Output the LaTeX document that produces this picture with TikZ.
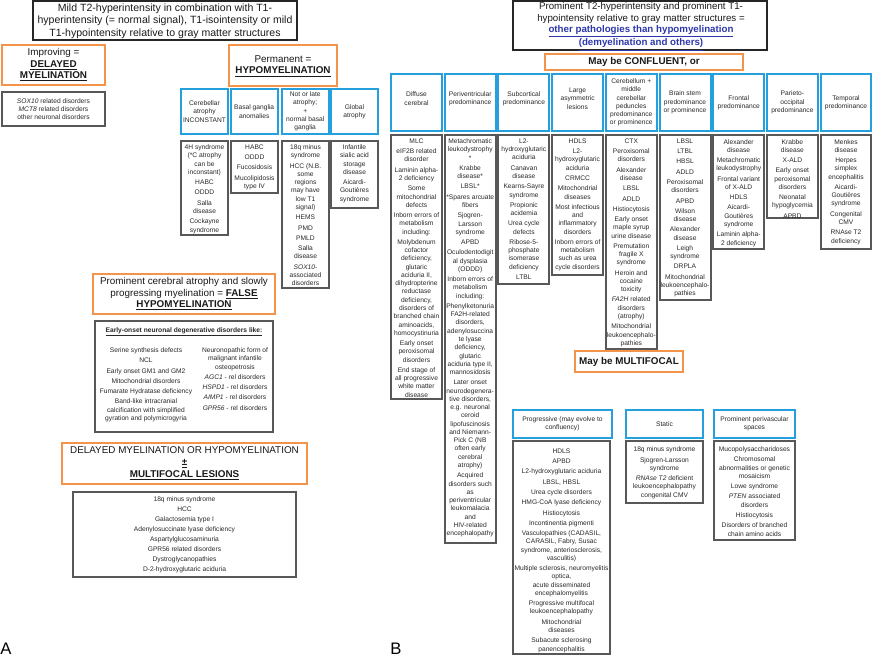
\documentclass[tikz,border=0pt]{standalone}
\usepackage{fontspec}
\setmainfont{Liberation Sans}
\definecolor{orng}{RGB}{244,148,74}
\definecolor{blu}{RGB}{38,160,220}
\definecolor{gry}{RGB}{88,88,88}
\definecolor{lnk}{RGB}{45,55,170}
\definecolor{tx}{RGB}{40,40,40}
\newcommand{\itg}{\\[1.5pt]}
\tikzset{
 obox/.style={draw=orng, line width=1.2pt},
 bbox/.style={draw=blu, line width=1.5pt},
 gbox/.style={draw=gry, line width=1.5pt},
 kbox/.style={draw=black!85, line width=1.6pt},
 txs/.style={align=center, inner sep=0pt, text=tx, font=\fontsize{5.0}{6.2}\selectfont},
 txl/.style={align=center, inner sep=0pt, text=tx, font=\fontsize{5.0}{7.5}\selectfont},
 txh/.style={align=center, inner sep=0pt, text=black!90, font=\fontsize{7.9}{9.4}\selectfont},
 txo/.style={align=center, inner sep=0pt, text=black!90, font=\fontsize{7.4}{8.7}\selectfont},
 txb/.style={align=center, inner sep=0pt, text=black!90, font=\fontsize{7.3}{8.75}\selectfont},
 lab/.style={inner sep=0pt, anchor=west, font=\fontsize{12.5}{14}\selectfont},
}
\begin{document}
\begin{tikzpicture}[x=0.75pt,y=-0.75pt]
\useasboundingbox (0,0) rectangle (872,658);

% ================= Panel A =================
\draw[kbox] (33,1) rectangle (297,40);
\node[txh] (topA) at (165,21) {Mild T2-hyperintensity in combination with T1-\\hyperintensity (= normal signal), T1-isointensity or mild\\T1-hypointensity relative to gray matter structures};

\draw[obox] (2,45) rectangle (105,85);
\node[txo] (impr) at (53.5,65) {Improving =\\\underline{\textbf{DELAYED}}\\\underline{\textbf{MYELINATION}}};
\draw[obox] (229,45) rectangle (337,86);
\node[txo] (perm) at (283,66) {Permanent =\\\underline{\textbf{HYPOMYELINATION}}};

\draw[gbox] (2,92) rectangle (105,126);
\node[txs] (soxA) at (53.5,109) {\textit{SOX10} related disorders\\\textit{MCT8} related disorders\\other neuronal disorders};

% blue headers A
\draw[bbox] (181,89) rectangle (228,134);
\draw[bbox] (230.5,89) rectangle (278,134);
\draw[bbox] (282,89) rectangle (328.5,134);
\draw[bbox] (331,89) rectangle (378,134);
\node[txs] (hA1) at (204.5,111.5) {Cerebellar\\atrophy\\INCONSTANT};
\node[txs] (hA2) at (254.2,111.5) {Basal ganglia\\anomalies};
\node[txs] (hA3) at (305.2,111.5) {Not or late\\atrophy;\\+\\normal basal\\ganglia};
\node[txs] (hA4) at (354.5,111.5) {Global\\atrophy};

% gray lists A
\draw[gbox] (181,141) rectangle (228,235);
\draw[gbox] (231,141) rectangle (278,193);
\draw[gbox] (282,141) rectangle (329,288);
\draw[gbox] (331,141) rectangle (378,208);
\node[txs,anchor=north] (lA1) at (204.5,144.5) {4H syndrome\\(*C atrophy\\can be\\inconstant)\itg HABC\itg ODDD\itg Salla\\disease\itg Cockayne\\syndrome};
\node[txs,anchor=north] (lA2) at (254.5,144.5) {HABC\itg ODDD\itg Fucosidosis\itg Mucolipidosis\\type IV};
\node[txs,anchor=north] (lA3) at (305.5,144.5) {18q minus\\syndrome\itg HCC (N.B.\\some\\regions\\may have\\low T1\\signal)\itg HEMS\itg PMD\itg PMLD\itg Salla\\disease\itg \textit{SOX10}-\\associated\\disorders};
\node[txs,anchor=north] (lA4) at (354.5,144.5) {Infantile\\sialic acid\\storage\\disease\itg Aicardi-\\Goutières\\syndrome};

% false hypomyelination
\draw[obox] (93,274) rectangle (275,314);
\node[txo] (falseH) at (184,294) {Prominent cerebral atrophy and slowly\\progressing myelination = \underline{\textbf{FALSE}}\\\underline{\textbf{HYPOMYELINATION}}};

\draw[gbox] (95,321) rectangle (273,432);
\node[txs,anchor=north] (eoT) at (184,327.3) {\underline{\textbf{Early-onset neuronal degenerative disorders like:}}};
\node[txs,anchor=north] (eoL) at (146,347.5) {Serine synthesis defects\itg NCL\itg Early onset GM1 and GM2\itg Mitochondrial disorders\itg Fumarate Hydratase deficiency\itg Band-like intracranial\\calcification with simplified\\gyration and polymicrogyria};
\node[txs,anchor=north] (eoR) at (235,347.5) {Neuronopathic form of\\malignant infantile\\osteopetrosis\itg \textit{AGC1} - rel disorders\itg \textit{HSPD1} - rel disorders\itg \textit{AIMP1} - rel disorders\itg \textit{GPR56} - rel disorders};

% delayed or hypo + multifocal
\draw[obox] (62,443) rectangle (307,484);
\node[txo] (dmh) at (184.5,463.5) {DELAYED MYELINATION OR HYPOMYELINATION\\\underline{\textbf{±}}\\\underline{\textbf{MULTIFOCAL LESIONS}}};
\draw[gbox] (73,492) rectangle (296,577);
\node[txl,anchor=north] (mlA) at (184.5,496.5) {18q minus syndrome\\HCC\\Galactosemia type I\\Adenylosuccinate lyase deficiency\\Aspartylglucosaminuria\\GPR56 related disorders\\Dystroglycanopathies\\D-2-hydroxyglutaric aciduria};

\node[lab] (labA) at (0,649) {A};

% ================= Panel B =================
\draw[kbox] (513,1) rectangle (767,50);
\node[txb] (topB) at (641,26.5) {Prominent T2-hyperintensity and prominent T1-\\hypointensity relative to gray matter structures =\\\textcolor{lnk}{\textbf{\underline{other pathologies than hypomyelination}}}\\\textcolor{lnk}{\textbf{\underline{(demyelination and others)}}}};

\draw[obox] (545,54) rectangle (743,70);
\node[txo] (confl) at (644,62) {\textbf{May be CONFLUENT, or}};

% blue headers B
\draw[bbox] (391.0,74) rectangle (442.0,131);
\draw[bbox] (444.7,74) rectangle (495.7,131);
\draw[bbox] (498.4,74) rectangle (549.4,131);
\draw[bbox] (552.1,74) rectangle (603.1,131);
\draw[bbox] (605.8,74) rectangle (656.8,131);
\draw[bbox] (659.5,74) rectangle (710.5,131);
\draw[bbox] (713.2,74) rectangle (764.2,131);
\draw[bbox] (766.9,74) rectangle (817.9,131);
\draw[bbox] (820.6,74) rectangle (871.4,131);
\node[txs] (hB1) at (416.5,98.5) {Diffuse\\cerebral};
\node[txs] (hB2) at (470.2,98.5) {Periventricular\\predominance};
\node[txs] (hB3) at (523.9,98.5) {Subcortical\\predominance};
\node[txs] (hB4) at (577.6,98.5) {Large\\asymmetric\\lesions};
\node[txs] (hB5) at (631.3,102.5) {Cerebellum +\\middle\\cerebellar\\peduncles\\predominance\\or prominence};
\node[txs] (hB6) at (685.0,102.5) {Brain stem\\predominance\\or prominence};
\node[txs] (hB7) at (738.7,103) {Frontal\\predominance};
\node[txs] (hB8) at (792.4,102.5) {Parieto-\\occipital\\predominance};
\node[txs] (hB9) at (846.0,103) {Temporal\\predominance};

% gray lists B
\draw[gbox] (391.0,134.5) rectangle (442.0,399);
\draw[gbox] (444.7,134.5) rectangle (495.7,543);
\draw[gbox] (498.4,134.5) rectangle (549.4,284);
\draw[gbox] (552.1,134.5) rectangle (603.1,275);
\draw[gbox] (605.8,134.5) rectangle (656.8,349);
\draw[gbox] (659.5,134.5) rectangle (710.5,300);
\draw[gbox] (713.2,134.5) rectangle (764.2,249);
\draw[gbox] (766.9,134.5) rectangle (817.9,218);
\draw[gbox] (820.6,134.5) rectangle (871.4,249);

\node[txs,anchor=north] (lB1) at (416.5,138.5) {MLC\itg eIF2B related\\disorder\itg Laminin alpha-\\2 deficiency\itg Some\\mitochondrial\\defects\itg Inborn errors of\\metabolism\\including:\itg Molybdenum\\cofactor\\deficiency,\\glutaric\\aciduria II,\\dihydropterine\\reductase\\deficiency,\\disorders of\\branched chain\\aminoacids,\\homocystinuria\itg Early onset\\peroxisomal\\disorders\itg End stage of\\all progressive\\white matter\\disease};
\node[txs,anchor=north] (lB2) at (470.2,138.5) {Metachromatic\\leukodystrophy\\*\itg Krabbe\\disease*\itg LBSL*\itg *Spares arcuate\\fibers\itg Sjogren-\\Larsson\\syndrome\itg APBD\itg Oculodentodigit\\al dysplasia\\(ODDD)\itg Inborn errors of\\metabolism\\including:\itg Phenylketonuria\\FA2H-related\\disorders,\\adenylosuccina\\te lyase\\deficiency,\\glutaric\\aciduria type II,\\mannosidosis\itg Later onset\\neurodegenera-\\tive disorders,\\e.g. neuronal\\ceroid\\lipofuscinosis\\and Niemann-\\Pick C (NB\\often early\\cerebral\\atrophy)\itg Acquired\\disorders such\\as\\periventricular\\leukomalacia\\and\\HIV-related\\encephalopathy};
\node[txs,anchor=north] (lB3) at (523.9,138.5) {L2-\\hydroxyglutaric\\aciduria\itg Canavan\\disease\itg Kearns-Sayre\\syndrome\itg Propionic\\acidemia\itg Urea cycle\\defects\itg Ribose-5-\\phosphate\\isomerase\\deficiency\itg LTBL};
\node[txs,anchor=north] (lB4) at (577.6,138.5) {HDLS\itg L2-\\hydroxyglutaric\\aciduria\itg CRMCC\itg Mitochondrial\\diseases\itg Most infectious\\and\\inflammatory\\disorders\itg Inborn errors of\\metabolism\\such as urea\\cycle disorders};
\node[txs,anchor=north] (lB5) at (631.3,138.5) {CTX\itg Peroxisomal\\disorders\itg Alexander\\disease\itg LBSL\itg ADLD\itg Histiocytosis\itg Early onset\\maple syrup\\urine disease\itg Premutation\\fragile X\\syndrome\itg Heroin and\\cocaine\\toxicity\itg \textit{FA2H} related\\disorders\\(atrophy)\itg Mitochondrial\\leukoencephalo-\\pathies};
\node[txs,anchor=north] (lB6) at (685.0,138.5) {LBSL\itg LTBL\itg HBSL\itg ADLD\itg Peroxisomal\\disorders\itg APBD\itg Wilson\\disease\itg Alexander\\disease\itg Leigh\\syndrome\itg DRPLA\itg Mitochondrial\\leukoencephalo-\\pathies};
\node[txs,anchor=north] (lB7) at (738.7,139) {Alexander\\disease\itg Metachromatic\\leukodystrophy\itg Frontal variant\\of X-ALD\itg HDLS\itg Aicardi-\\Goutières\\syndrome\itg Laminin alpha-\\2 deficiency};
\node[txs,anchor=north] (lB8) at (792.4,139) {Krabbe\\disease\itg X-ALD\itg Early onset\\peroxisomal\\disorders\itg Neonatal\\hypoglycemia\itg APBD};
\node[txs,anchor=north] (lB9) at (846.0,139) {Menkes\\disease\itg Herpes\\simplex\\encephalitis\itg Aicardi-\\Goutières\\syndrome\itg Congenital\\CMV\itg RNAse T2\\deficiency};

% multifocal
\draw[obox] (575,351) rectangle (683,372);
\node[txo] (multi) at (629,361.5) {\textbf{May be MULTIFOCAL}};

\draw[bbox] (513,410) rectangle (612,438);
\draw[bbox] (626,410) rectangle (703,438);
\draw[bbox] (714,410) rectangle (795,438);
\node[txs] (hP) at (562.5,424) {Progressive (may evolve to\\confluency)};
\node[txs] (hS) at (664.5,424) {Static};
\node[txs] (hV) at (754.5,424) {Prominent perivascular\\spaces};

\draw[gbox] (513,441) rectangle (610,654);
\draw[gbox] (626,441) rectangle (703,503);
\draw[gbox] (714,441) rectangle (795,540);
\node[txs,anchor=north] (lP) at (561.5,448.5) {HDLS\itg APBD\itg L2-hydroxyglutaric aciduria\itg LBSL, HBSL\itg Urea cycle disorders\itg HMG-CoA lyase deficiency\itg Histiocytosis\itg Incontinentia pigmenti\itg Vasculopathies (CADASIL,\\CARASIL, Fabry, Susac\\syndrome, anteriosclerosis,\\vasculitis)\itg Multiple sclerosis, neuromyelitis\\optica,\\acute disseminated\\encephalomyelitis\itg Progressive multifocal\\leukoencephalopathy\itg Mitochondrial\\diseases\itg Subacute sclerosing\\panencephalitis};
\node[txs,anchor=north] (lS) at (664.5,446.8) {18q minus syndrome\itg Sjogren-Larsson\\syndrome\itg \textit{RNAse T2} deficient\\leukoencephalopathy\\congenital CMV};
\node[txs,anchor=north] (lV) at (754.5,446.5) {Mucopolysaccharidoses\itg Chromosomal\\abnormalities or genetic\\mosaicism\itg Lowe syndrome\itg \textit{PTEN} associated\\disorders\itg Histiocytosis\itg Disorders of branched\\chain amino acids};

\node[lab] (labB) at (390,649) {B};
\end{tikzpicture}
\end{document}
